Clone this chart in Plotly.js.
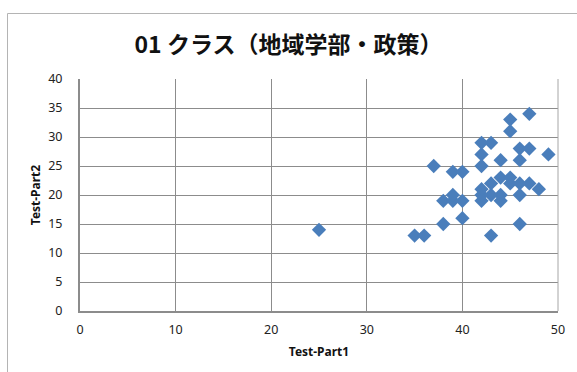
<!DOCTYPE html>
<html>
<head>
<meta charset="utf-8">
<script src="https://cdn.plot.ly/plotly-3.0.1.min.js"></script>
<style>
  html, body { margin: 0; padding: 0; background: #fff; }
  #chart { width: 577px; height: 372px; }
</style>
</head>
<body>
<div id="chart"></div>
<script>
// Scores of each student: Part 1 (x) against Part 2 (y)
const part1 = [25, 35, 36, 43, 38, 46, 40, 38, 39, 40, 42, 44, 39, 42, 43, 44, 46,
               42, 48, 43, 45, 46, 47, 44, 45, 39, 40, 37, 42, 44, 46, 42, 49,
               46, 47, 42, 43, 45, 45, 47];
const part2 = [14, 13, 13, 13, 15, 15, 16, 19, 19, 19, 19, 19, 20, 20, 20, 20, 20,
               21, 21, 22, 22, 22, 22, 23, 23, 24, 24, 25, 25, 26, 26, 27, 27,
               28, 28, 29, 29, 31, 33, 34];

const chartTitle = '01 クラス（地域学部・政策）';
const xTitle = 'Test-Part1';
const yTitle = 'Test-Part2';
const xTicks = [0, 10, 20, 30, 40, 50];
const yTicks = [0, 5, 10, 15, 20, 25, 30, 35, 40];

const W = 577, H = 372;
const M = { l: 80, r: 19, t: 79, b: 61 };
const pw = W - M.l - M.r, ph = H - M.t - M.b;
// convert pixel position to paper fraction (for the outer frame)
const px = v => (v - M.l) / pw;
const py = v => (H - M.b - v) / ph;

const tickFont = { family: 'Noto Sans, Open Sans, sans-serif', size: 12.5, color: '#222' };
const titleFont = { family: 'Noto Sans, sans-serif', size: 12, color: '#111', weight: 'bold' };

const trace = {
  type: 'scatter',
  mode: 'markers',
  x: part1,
  y: part2,
  marker: { symbol: 'diamond', size: 11, color: '#4a7ebb', line: { width: 0 } },
  hoverinfo: 'x+y'
};

const layout = {
  width: W, height: H,
  margin: M,
  paper_bgcolor: '#fff',
  plot_bgcolor: '#fff',
  showlegend: false,
  title: {
    text: '<b>' + chartTitle + '</b>',
    font: { family: 'Noto Sans CJK JP, sans-serif', size: 23, color: '#111' },
    x: 0.5, xanchor: 'center',
    y: 1 - 45 / H, yanchor: 'middle'
  },
  xaxis: {
    range: [0, 50],
    tickvals: xTicks,
    ticks: 'outside', ticklen: 6, tickcolor: 'rgba(0,0,0,0)',
    tickfont: tickFont,
    showgrid: true, gridcolor: '#8c8c8c', gridwidth: 1,
    zeroline: false,
    showline: true, linecolor: '#8c8c8c', linewidth: 2,
    mirror: false,
    fixedrange: true,
    title: { text: xTitle, font: titleFont, standoff: 11 }
  },
  yaxis: {
    range: [0, 40],
    tickvals: yTicks,
    ticks: 'outside', ticklen: 13, tickcolor: 'rgba(0,0,0,0)',
    tickfont: tickFont,
    showgrid: true, gridcolor: '#8c8c8c', gridwidth: 1,
    zeroline: false,
    showline: true, linecolor: '#8c8c8c', linewidth: 2,
    fixedrange: true,
    title: { text: yTitle, font: titleFont, standoff: 5 }
  },
  shapes: [
    // right border of the plot area
    { type: 'line', xref: 'paper', yref: 'paper', x0: 1, x1: 1, y0: 0, y1: 1,
      line: { color: '#a6a6a6', width: 1 } },
    // outer chart frame
    { type: 'line', xref: 'paper', yref: 'paper',
      x0: px(7.5), x1: px(W + 5), y0: py(13.5), y1: py(13.5),
      line: { color: '#b4b4b4', width: 1 } },
    { type: 'line', xref: 'paper', yref: 'paper',
      x0: px(7.5), x1: px(7.5), y0: py(13.5), y1: py(H + 5),
      line: { color: '#b4b4b4', width: 1 } }
  ]
};

Plotly.newPlot('chart', [trace], layout, { staticPlot: true, displayModeBar: false });
</script>
</body>
</html>
